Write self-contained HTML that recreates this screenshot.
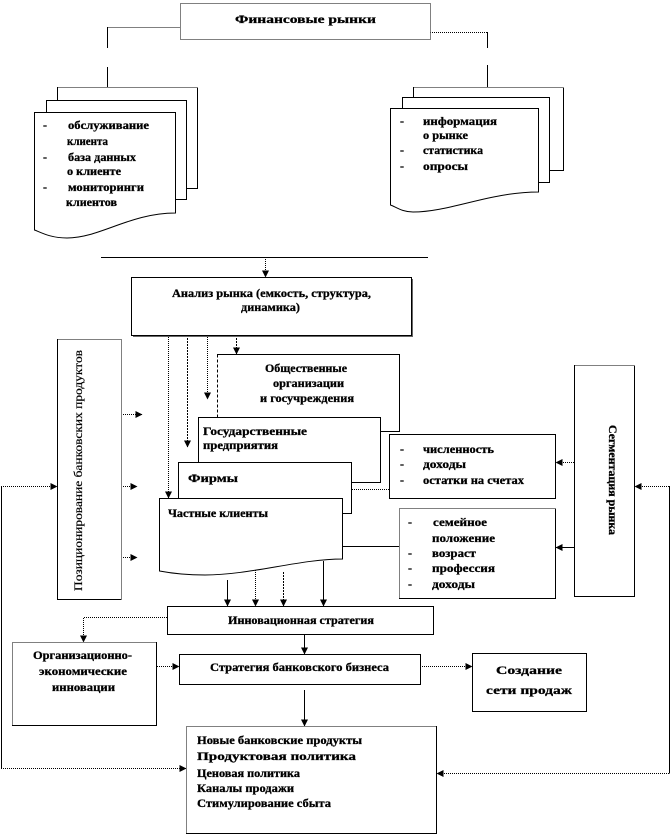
<!DOCTYPE html>
<html><head><meta charset="utf-8"><style>
html,body{margin:0;padding:0;background:#fff;}
svg{display:block;}
text{font-family:"Liberation Serif","DejaVu Serif",serif;font-weight:bold;fill:#000;font-size:12px;stroke:#000;stroke-width:0.3px;}
</style></head><body>
<svg width="670" height="836" viewBox="0 0 670 836" xmlns="http://www.w3.org/2000/svg">
<defs>
<marker id="ar" markerUnits="userSpaceOnUse" markerWidth="7" markerHeight="7" refX="6.5" refY="3.5" orient="auto"><path d="M0,0 L7,3.5 L0,7 z" fill="#000"/></marker>
</defs>

<!-- connector lines -->
<g fill="none" stroke="#000" stroke-width="1">
  <path d="M107.5,27.5 H180" stroke-dasharray="1 1"/>
  <path d="M107.5,27 V48 M107.5,67 V87"/>
  <path d="M430,32.5 H487.5" stroke-dasharray="1 1"/>
  <path d="M487.5,32 V48 M487.5,65 V87"/>
  <path d="M101,257.5 H428"/>
  <path d="M265.5,257 V277" stroke-dasharray="1 1" marker-end="url(#ar)"/>
  <path d="M168.5,335 V498" stroke-dasharray="1 1" marker-end="url(#ar)"/>
  <path d="M187.5,335 V447" stroke-dasharray="2 1" marker-end="url(#ar)"/>
  <path d="M207.5,335 V399" stroke-dasharray="1 1" marker-end="url(#ar)"/>
  <path d="M236.5,335 V354" stroke-dasharray="2 1" marker-end="url(#ar)"/>
  <path d="M352,489.5 H389" stroke-dasharray="1 1"/>
  <path d="M342,546.5 H399"/>
  <path d="M574,462.5 H556" stroke-dasharray="1 1" marker-end="url(#ar)"/>
  <path d="M574,547.5 H556" marker-end="url(#ar)"/>
  <path d="M669.5,486 V773.5"/>
  <path d="M669,486.5 H635" stroke-dasharray="1 1" marker-end="url(#ar)"/>
  <path d="M669,773.5 H437" stroke-dasharray="1 1" marker-end="url(#ar)"/>
  <path d="M121,414.5 H142" stroke-dasharray="1 1" marker-end="url(#ar)"/>
  <path d="M121,486.5 H137" stroke-dasharray="1 1" marker-end="url(#ar)"/>
  <path d="M121,557.5 H137" stroke-dasharray="1 1" marker-end="url(#ar)"/>
  <path d="M1.5,486 V768.5"/>
  <path d="M1,486.5 H57" stroke-dasharray="1 1" marker-end="url(#ar)"/>
  <path d="M1,768.5 H186" stroke-dasharray="1 1" marker-end="url(#ar)"/>
  <path d="M227.5,580 V606" marker-end="url(#ar)"/>
  <path d="M255.5,570 V606" stroke-dasharray="1 1" marker-end="url(#ar)"/>
  <path d="M283.5,572 V606" stroke-dasharray="2 1" marker-end="url(#ar)"/>
  <path d="M323.5,561 V606" marker-end="url(#ar)"/>
  <path d="M167,617.5 H83.5 V642" stroke-dasharray="1 1" marker-end="url(#ar)"/>
  <path d="M157,666.5 H179" stroke-dasharray="1 1" marker-end="url(#ar)"/>
  <path d="M304.5,634 V654" marker-end="url(#ar)"/>
  <path d="M304.5,690 V726" marker-end="url(#ar)"/>
  <path d="M422,666.5 H472" stroke-dasharray="1 1" marker-end="url(#ar)"/>
</g>

<!-- boxes -->
<g fill="#fff" stroke="#000" stroke-width="1">
  <rect x="180.5" y="3.5" width="250" height="36" stroke-dasharray="1 1"/>
  <rect x="57.5" y="87.5" width="140" height="101"/>
  <path d="M57.5,87.5 H197.5" stroke="#fff"/>
  <path d="M57.5,87.5 H197.5" stroke-dasharray="1 1" fill="none"/>
  <rect x="46.5" y="100.5" width="140" height="99"/>
  <path d="M34.5,112.5 H175.5 V213 C130,213 100,238 67,238 C50,238 40,232 34.5,230 Z"/>
  <rect x="413.5" y="87.5" width="150" height="83"/>
  <path d="M413.5,87.5 H563.5" stroke="#fff"/>
  <path d="M413.5,87.5 H563.5" stroke-dasharray="1 1" fill="none"/>
  <rect x="402.5" y="97.5" width="147" height="85"/>
  <path d="M390.5,108.5 H538.5 V192 C490,192 450,212 413,212 C402,212 396,207 390.5,205 Z"/>
  <rect x="131.5" y="277.5" width="280" height="58"/>
  <path d="M412.5,279 V336.5 H133" stroke="#666" fill="none"/>
  <rect x="217.5" y="354.5" width="182" height="77"/>
  <path d="M217.5,354.5 V431.5" stroke="#fff"/>
  <path d="M217.5,354.5 V431.5" stroke-dasharray="3 2" fill="none"/>
  <rect x="198.5" y="417.5" width="182" height="65"/>
  <rect x="178.5" y="462.5" width="173" height="51"/>
  <path d="M159.5,498.5 H342.5 V559 C300,559 250,575 205,575 C185,575 170,573 159.5,571 Z"/>
  <rect x="389.5" y="434.5" width="166" height="64"/>
  <rect x="399.5" y="508.5" width="156" height="90"/>
  <path d="M399.5,598.5 V508.5 H555.5" stroke="#fff" fill="none"/>
  <path d="M399.5,598.5 V508.5 H555.5" stroke-dasharray="1 1" fill="none"/>
  <rect x="574.5" y="365.5" width="60" height="231"/>
  <path d="M574.5,365.5 H634.5" stroke="#fff"/>
  <path d="M574.5,365.5 H634.5" stroke-dasharray="1 1" fill="none"/>
  <rect x="57.5" y="339.5" width="64" height="260"/>
  <path d="M57.5,339.5 H121.5 V599.5" stroke="#fff" fill="none"/>
  <path d="M57.5,339.5 H121.5 V599.5" stroke-dasharray="1 1" fill="none"/>
  <rect x="167.5" y="606.5" width="266" height="28"/>
  <rect x="12.5" y="642.5" width="144" height="83"/>
  <path d="M12.5,725.5 V642.5 H156.5" stroke="#fff" fill="none"/>
  <path d="M12.5,725.5 V642.5 H156.5" stroke-dasharray="1 1" fill="none"/>
  <rect x="179.5" y="654.5" width="241" height="30"/>
  <rect x="472.5" y="653.5" width="114" height="58"/>
  <rect x="186.5" y="726.5" width="250" height="107"/>
  <path d="M186.5,833.5 V726.5 H436.5" stroke="#fff" fill="none"/>
  <path d="M186.5,833.5 V726.5 H436.5" stroke-dasharray="1 1" fill="none"/>
</g>

<!-- texts -->
<text x="235" y="23" font-size="14" textLength="141" lengthAdjust="spacingAndGlyphs">Финансовые рынки</text>

<text x="43" y="129">-</text><text x="68" y="129" textLength="81" lengthAdjust="spacingAndGlyphs">обслуживание</text>
<text x="67" y="145" textLength="41" lengthAdjust="spacingAndGlyphs">клиента</text>
<text x="43" y="161">-</text><text x="68" y="161" textLength="68" lengthAdjust="spacingAndGlyphs">база данных</text>
<text x="67" y="175" textLength="54" lengthAdjust="spacingAndGlyphs">о клиенте</text>
<text x="43" y="191">-</text><text x="68" y="191" textLength="76" lengthAdjust="spacingAndGlyphs">мониторинги</text>
<text x="66" y="206" textLength="51" lengthAdjust="spacingAndGlyphs">клиентов</text>

<text x="400" y="125">-</text><text x="423" y="125" textLength="74" lengthAdjust="spacingAndGlyphs">информация</text>
<text x="423" y="139" textLength="45" lengthAdjust="spacingAndGlyphs">о рынке</text>
<text x="400" y="154">-</text><text x="423" y="154" textLength="60" lengthAdjust="spacingAndGlyphs">статистика</text>
<text x="400" y="170">-</text><text x="423" y="170" textLength="45" lengthAdjust="spacingAndGlyphs">опросы</text>

<text x="172" y="297" textLength="199" lengthAdjust="spacingAndGlyphs">Анализ рынка (емкость, структура,</text>
<text x="241" y="311" textLength="59" lengthAdjust="spacingAndGlyphs">динамика)</text>

<text x="265" y="372" textLength="82" lengthAdjust="spacingAndGlyphs">Общественные</text>
<text x="273" y="387" textLength="71" lengthAdjust="spacingAndGlyphs">организации</text>
<text x="260" y="402" textLength="94" lengthAdjust="spacingAndGlyphs">и госучреждения</text>

<text x="203" y="435" font-size="14" textLength="104" lengthAdjust="spacingAndGlyphs">Государственные</text>
<text x="203" y="449" font-size="13" textLength="75" lengthAdjust="spacingAndGlyphs">предприятия</text>
<text x="188" y="482" font-size="15" textLength="50" lengthAdjust="spacingAndGlyphs">Фирмы</text>
<text x="168" y="517" textLength="100" lengthAdjust="spacingAndGlyphs">Частные клиенты</text>

<text x="400" y="453">-</text><text x="423" y="453" textLength="71" lengthAdjust="spacingAndGlyphs">численность</text>
<text x="400" y="468">-</text><text x="423" y="468" textLength="43" lengthAdjust="spacingAndGlyphs">доходы</text>
<text x="400" y="484">-</text><text x="423" y="484" textLength="101" lengthAdjust="spacingAndGlyphs">остатки на счетах</text>

<text x="408" y="526">-</text><text x="433" y="526" textLength="54" lengthAdjust="spacingAndGlyphs">семейное</text>
<text x="432" y="542" textLength="63" lengthAdjust="spacingAndGlyphs">положение</text>
<text x="408" y="557">-</text><text x="432" y="557" textLength="44" lengthAdjust="spacingAndGlyphs">возраст</text>
<text x="408" y="572">-</text><text x="432" y="572" textLength="63" lengthAdjust="spacingAndGlyphs">профессия</text>
<text x="408" y="588">-</text><text x="432" y="588" textLength="43" lengthAdjust="spacingAndGlyphs">доходы</text>

<text transform="translate(609,425) rotate(90)" textLength="110" lengthAdjust="spacingAndGlyphs">Сегментация рынка</text>
<text transform="translate(82,591) rotate(-90)" style="font-weight:normal;stroke-width:0.2px" textLength="241" lengthAdjust="spacingAndGlyphs">Позиционирование банковских продуктов</text>

<text x="228" y="624" textLength="146" lengthAdjust="spacingAndGlyphs">Инновационная стратегия</text>
<text x="33" y="659" textLength="99" lengthAdjust="spacingAndGlyphs">Организационно-</text>
<text x="39" y="675" textLength="88" lengthAdjust="spacingAndGlyphs">экономические</text>
<text x="52" y="691" textLength="63" lengthAdjust="spacingAndGlyphs">инновации</text>
<text x="210" y="671" textLength="179" lengthAdjust="spacingAndGlyphs">Стратегия банковского бизнеса</text>
<text x="496" y="674" font-size="16" textLength="66" lengthAdjust="spacingAndGlyphs">Создание</text>
<text x="486" y="694" font-size="16" textLength="86" lengthAdjust="spacingAndGlyphs">сети продаж</text>

<text x="197" y="744" textLength="165" lengthAdjust="spacingAndGlyphs">Новые банковские продукты</text>
<text x="197" y="760" font-size="16" textLength="159" lengthAdjust="spacingAndGlyphs">Продуктовая политика</text>
<text x="197" y="777" textLength="103" lengthAdjust="spacingAndGlyphs">Ценовая политика</text>
<text x="197" y="792" textLength="97" lengthAdjust="spacingAndGlyphs">Каналы продажи</text>
<text x="197" y="807" textLength="134" lengthAdjust="spacingAndGlyphs">Стимулирование сбыта</text>
</svg>
</body></html>
